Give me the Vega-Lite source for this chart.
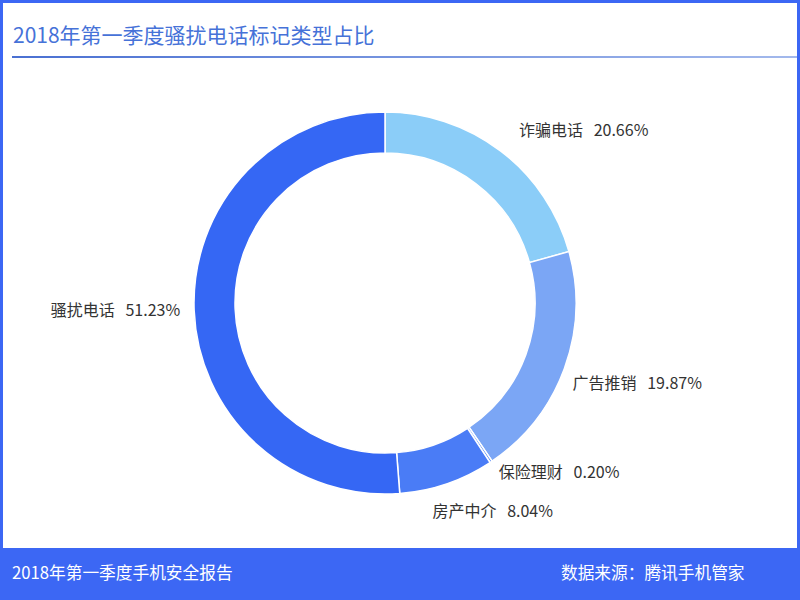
{
  "$schema": "https://vega.github.io/schema/vega-lite/v6.json",
  "background": "#3c67f4",
  "padding": {"left": 3, "top": 3, "right": 3, "bottom": 0},
  "spacing": 0,
  "config": {
    "view": {"stroke": null, "fill": "white"},
    "font": "Noto Sans CJK SC",
    "concat": {"spacing": 0}
  },
  "datasets": {
    "share": [
      {"rank": 1, "category": "诈骗电话", "value": 20.66, "label": "诈骗电话 \u00a0\u00a020.66%"},
      {"rank": 2, "category": "广告推销", "value": 19.87, "label": "广告推销 \u00a0\u00a019.87%"},
      {"rank": 3, "category": "保险理财", "value": 0.20, "label": "保险理财 \u00a0\u00a00.20%"},
      {"rank": 4, "category": "房产中介", "value": 8.04, "label": "房产中介 \u00a0\u00a08.04%"},
      {"rank": 5, "category": "骚扰电话", "value": 51.23, "label": "骚扰电话 \u00a0\u00a051.23%"}
    ]
  },
  "vconcat": [
    {
      "width": 794,
      "height": 55,
      "view": {"fill": "white", "stroke": null},
      "data": {"values": [{"t": "2018年第一季度骚扰电话标记类型占比"}]},
      "layer": [
        {
          "mark": {"type": "text", "align": "left", "baseline": "alphabetic", "fontSize": 21, "color": "#4672d8"},
          "encoding": {"text": {"field": "t"}, "x": {"value": 10}, "y": {"value": 40}}
        },
        {
          "mark": {
            "type": "rect",
            "fill": {
              "gradient": "linear", "x1": 0, "y1": 0, "x2": 1, "y2": 0,
              "stops": [{"offset": 0, "color": "#4a70d2"}, {"offset": 1, "color": "#a3b9ec"}]
            }
          },
          "encoding": {"x": {"value": 9}, "x2": {"value": 794}, "y": {"value": 53}, "y2": {"value": 55}}
        }
      ]
    },
    {
      "hconcat": [
        {
          "width": 764,
          "height": 490,
          "view": {"fill": "white", "stroke": null},
          "data": {"name": "share"},
          "encoding": {
            "theta": {"field": "value", "type": "quantitative", "stack": true},
            "order": {"field": "rank", "type": "quantitative"}
          },
          "layer": [
            {
              "mark": {"type": "arc", "innerRadius": 150, "outerRadius": 191, "stroke": "white", "strokeWidth": 1.5},
              "encoding": {
                "color": {
                  "field": "category",
                  "type": "nominal",
                  "scale": {
                    "domain": ["诈骗电话", "广告推销", "保险理财", "房产中介", "骚扰电话"],
                    "range": ["#8bcdf8", "#7ba6f5", "#5b8bf5", "#4a7cf6", "#3567f4"]
                  },
                  "legend": null
                }
              }
            },
            {
              "mark": {
                "type": "text",
                "radius": 205,
                "fontSize": 16,
                "color": "#333333",
                "baseline": "middle",
                "align": {"expr": "datum.category === '骚扰电话' ? 'right' : 'left'"},
                "dx": {"expr": "datum.category === '房产中介' ? -19 : (datum.category === '诈骗电话' ? 10 : (datum.category === '广告推销' ? -5 : 0))"},
                "dy": {"expr": "datum.category === '房产中介' ? 15 : (datum.category === '诈骗电话' ? -9 : (datum.category === '广告推销' ? 10 : 0))"}
              },
              "encoding": {"text": {"field": "label"}}
            }
          ]
        },
        {
          "width": 30,
          "height": 490,
          "view": {"fill": "white", "stroke": null},
          "data": {"values": [{}]},
          "mark": {"type": "text", "text": ""}
        }
      ]
    },
    {
      "width": 794,
      "height": 52,
      "view": {"fill": "#3c67f4", "stroke": null},
      "data": {"values": [{"t": "2018年第一季度手机安全报告", "r": "数据来源：腾讯手机管家"}]},
      "layer": [
        {
          "mark": {"type": "text", "align": "left", "baseline": "middle", "fontSize": 16.7, "color": "white"},
          "encoding": {"text": {"field": "t"}, "x": {"value": 9}, "y": {"value": 26}}
        },
        {
          "mark": {"type": "text", "align": "left", "baseline": "middle", "fontSize": 16.7, "color": "white"},
          "encoding": {"text": {"field": "r"}, "x": {"value": 558}, "y": {"value": 26}}
        }
      ]
    }
  ]
}
